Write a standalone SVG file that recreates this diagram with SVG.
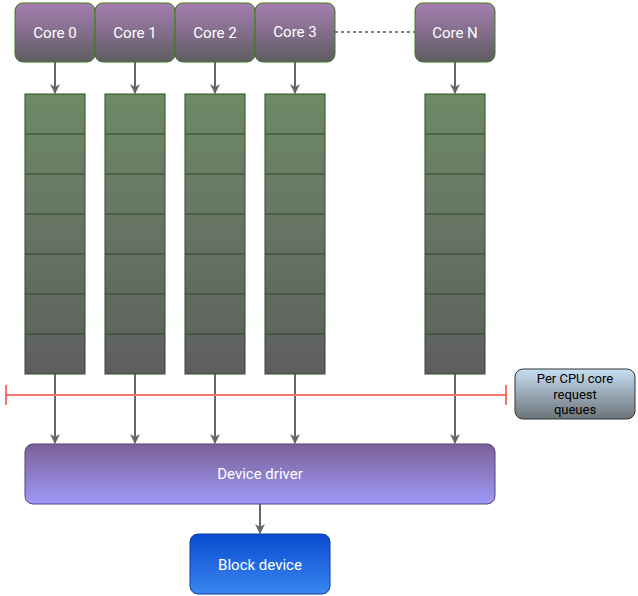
<svg xmlns="http://www.w3.org/2000/svg" width="638" height="596" viewBox="0 0 638 596">
<defs>
<linearGradient id="gc" x1="0" y1="0" x2="0" y2="1"><stop offset="0" stop-color="#a67fb2"/><stop offset="1" stop-color="#5f5c62"/></linearGradient>
<linearGradient id="gq" x1="0" y1="0" x2="0" y2="1"><stop offset="0" stop-color="#6d8a67"/><stop offset="1" stop-color="#5e5e5e"/></linearGradient>
<linearGradient id="gd" x1="0" y1="0" x2="0" y2="1"><stop offset="0" stop-color="#7b5f96"/><stop offset="1" stop-color="#9e9af9"/></linearGradient>
<linearGradient id="gb" x1="0" y1="0" x2="0" y2="1"><stop offset="0" stop-color="#0a4bd0"/><stop offset="1" stop-color="#3a86f0"/></linearGradient>
<linearGradient id="gl" x1="0" y1="0" x2="0" y2="1"><stop offset="0" stop-color="#c6def2"/><stop offset="1" stop-color="#6c7479"/></linearGradient>
<marker id="ah" markerWidth="10" markerHeight="10" refX="9" refY="5" orient="auto" markerUnits="userSpaceOnUse"><path d="M0,0 L10,5 L0,10 L3,5 Z" fill="#666"/></marker>
</defs>
<style>
.core{fill:url(#gc);stroke:#3f7a1c;stroke-width:1}
.q{fill:url(#gq);stroke:#2f4a28;stroke-width:1}
.qd{stroke:#2f4a28;stroke-width:1}
.t{font-family:Roboto,"Liberation Sans",sans-serif;font-size:15px;fill:#fff;text-anchor:middle}
.c{stroke:#666;stroke-width:2;fill:none;marker-end:url(#ah)}
</style>
<g id="connectors">
<path class="c" d="M55,62 V93"/><path class="c" d="M135,62 V93"/><path class="c" d="M215,62 V93"/><path class="c" d="M295,62 V93"/><path class="c" d="M455,62 V93"/>
<path d="M335,32 H415" stroke="#000" stroke-dasharray="3,3"/>
<path class="c" d="M55,374 V443"/><path class="c" d="M135,374 V443"/><path class="c" d="M215,374 V443"/><path class="c" d="M295,374 V443"/><path class="c" d="M455,374 V443"/>
<path class="c" d="M260,504 V533"/>
<path d="M6,395 H506 M6,385 V405 M506,385 V405" stroke="#f7736d" stroke-width="2" fill="none"/>
</g>
<g id="core0"><rect class="core" x="15" y="3" width="80" height="59" rx="8"/><text class="t" x="55" y="38">Core 0</text></g>
<g id="core1"><rect class="core" x="95" y="3" width="80" height="59" rx="8"/><text class="t" x="135" y="38">Core 1</text></g>
<g id="core2"><rect class="core" x="175" y="3" width="80" height="59" rx="8"/><text class="t" x="215" y="38">Core 2</text></g>
<g id="core3"><rect class="core" x="255" y="3" width="80" height="59" rx="8"/><text class="t" x="295" y="37">Core 3</text></g>
<g id="coreN"><rect class="core" x="415" y="3" width="80" height="59" rx="8"/><text class="t" x="455" y="38">Core N</text></g>
<g id="queue0"><rect class="q" x="25" y="94" width="60" height="280"/><path class="qd" d="M25,134H85M25,174H85M25,214H85M25,254H85M25,294H85M25,334H85"/></g>
<g id="queue1"><rect class="q" x="105" y="94" width="60" height="280"/><path class="qd" d="M105,134H165M105,174H165M105,214H165M105,254H165M105,294H165M105,334H165"/></g>
<g id="queue2"><rect class="q" x="185" y="94" width="60" height="280"/><path class="qd" d="M185,134H245M185,174H245M185,214H245M185,254H245M185,294H245M185,334H245"/></g>
<g id="queue3"><rect class="q" x="265" y="94" width="60" height="280"/><path class="qd" d="M265,134H325M265,174H325M265,214H325M265,254H325M265,294H325M265,334H325"/></g>
<g id="queueN"><rect class="q" x="425" y="94" width="60" height="280"/><path class="qd" d="M425,134H485M425,174H485M425,214H485M425,254H485M425,294H485M425,334H485"/></g>
<g id="driver"><rect x="25" y="444" width="470" height="60" rx="8" fill="url(#gd)" stroke="#5a3f7a"/><text class="t" x="260" y="479">Device driver</text></g>
<g id="block"><rect x="190" y="534" width="140" height="60" rx="8" fill="url(#gb)" stroke="#0a3a9a"/><text class="t" x="260" y="570">Block device</text></g>
<g id="legend"><rect x="515" y="369" width="120" height="50" rx="8" fill="url(#gl)" stroke="#333"/>
<text x="575" y="383" font-family="Roboto,'Liberation Sans',sans-serif" font-size="13" fill="#000" text-anchor="middle">Per CPU core</text>
<text x="575" y="399" font-family="Roboto,'Liberation Sans',sans-serif" font-size="13" fill="#000" text-anchor="middle">request</text>
<text x="575" y="414" font-family="Roboto,'Liberation Sans',sans-serif" font-size="13" fill="#000" text-anchor="middle">queues</text></g>
</svg>
